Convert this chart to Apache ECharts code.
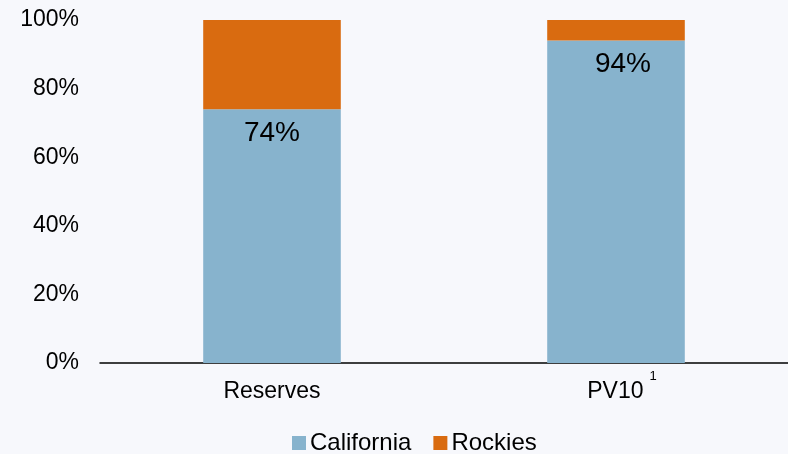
<!DOCTYPE html>
<html>
<head>
<meta charset="utf-8">
<script src="https://cdn.jsdelivr.net/npm/echarts@6/dist/echarts.min.js"></script>
<style>
  html, body { margin: 0; padding: 0; background: #f7f8fc; }
  #chart { width: 788px; height: 454px; }
</style>
</head>
<body>
<div id="chart"></div>
<script>
const categories = ['Reserves', 'PV10'];
const footnotes = ['', '1'];
const california = [74, 94];
const rockies = [26, 6];
const yTicks = [0, 20, 40, 60, 80, 100];

const chart = echarts.init(document.getElementById('chart'));

const option = {
  backgroundColor: '#f7f8fc',
  animation: false,
  textStyle: { fontFamily: 'Liberation Sans, Arial, sans-serif' },
  grid: { left: 100, right: 0, top: 20, bottom: 91 },
  legend: {
    top: 426,
    left: 287,
    icon: 'rect',
    itemWidth: 14,
    itemHeight: 14,
    itemGap: 22,
    data: ['California', 'Rockies'],
    textStyle: { color: '#000', fontSize: 24, padding: [0, 0, 0, -1] }
  },
  xAxis: {
    type: 'category',
    data: categories,
    axisLine: { lineStyle: { color: '#000', width: 1.5 } },
    axisTick: { show: false },
    axisLabel: {
      color: '#000',
      fontSize: 23,
      margin: 7,
      formatter: function (v) {
        const sup = footnotes[categories.indexOf(v)];
        return sup ? '{p|' + v + '}{s|' + sup + '}' : '{n|' + v + '}';
      },
      rich: {
        n: { fontSize: 23, lineHeight: 44, color: '#000' },
        p: { fontSize: 23, lineHeight: 44, color: '#000', padding: [0, 0, 0, 12] },
        s: { fontSize: 13, lineHeight: 12, color: '#000', verticalAlign: 'top', padding: [0, 0, 0, 6] }
      }
    }
  },
  yAxis: {
    type: 'value',
    min: 0,
    max: 100,
    interval: 20,
    axisLine: { show: false },
    axisTick: { show: false },
    splitLine: { show: false },
    axisLabel: {
      color: '#000',
      fontSize: 23,
      margin: 21,
      formatter: function (v) {
        return yTicks.indexOf(v) >= 0 ? v + '%' : '';
      }
    }
  },
  series: [
    {
      name: 'California',
      type: 'bar',
      stack: 'total',
      barWidth: '40%',
      data: california.map(function (v, i) {
        return i === 1 ? { value: v, label: { offset: [7, 0] } } : v;
      }),
      itemStyle: { color: '#87b3cd' },
      label: {
        show: true,
        position: 'insideTop',
        distance: 10,
        color: '#000',
        fontSize: 28,
        formatter: '{c}%'
      }
    },
    {
      name: 'Rockies',
      type: 'bar',
      stack: 'total',
      barWidth: '40%',
      data: rockies,
      itemStyle: { color: '#d96b10' }
    }
  ]
};

chart.setOption(option);
</script>
</body>
</html>
